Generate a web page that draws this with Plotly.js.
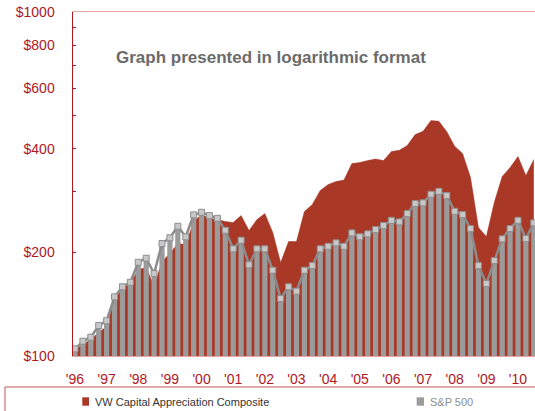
<!DOCTYPE html>
<html>
<head>
<meta charset="utf-8">
<script src="https://cdn.plot.ly/plotly-3.0.1.min.js"></script>
<style>
  html, body { margin: 0; padding: 0; background: #ffffff; }
  #chart { width: 535px; height: 411px; }
</style>
</head>
<body>
<div id="chart"></div>
<script>
// Quarterly categories, 1996 Q1 .. 2010 Q3
var quarters = [
  "1996 Q1","1996 Q2","1996 Q3","1996 Q4",
  "1997 Q1","1997 Q2","1997 Q3","1997 Q4",
  "1998 Q1","1998 Q2","1998 Q3","1998 Q4",
  "1999 Q1","1999 Q2","1999 Q3","1999 Q4",
  "2000 Q1","2000 Q2","2000 Q3","2000 Q4",
  "2001 Q1","2001 Q2","2001 Q3","2001 Q4",
  "2002 Q1","2002 Q2","2002 Q3","2002 Q4",
  "2003 Q1","2003 Q2","2003 Q3","2003 Q4",
  "2004 Q1","2004 Q2","2004 Q3","2004 Q4",
  "2005 Q1","2005 Q2","2005 Q3","2005 Q4",
  "2006 Q1","2006 Q2","2006 Q3","2006 Q4",
  "2007 Q1","2007 Q2","2007 Q3","2007 Q4",
  "2008 Q1","2008 Q2","2008 Q3","2008 Q4",
  "2009 Q1","2009 Q2","2009 Q3","2009 Q4",
  "2010 Q1","2010 Q2","2010 Q3"
];

// VW Capital Appreciation Composite (growth of $100)
var vwComposite = [
  104.4, 108.0, 111.7, 117.0,
  121.8, 145.9, 157.1, 162.4,
  178.4, 180.7, 159.2, 188.2,
  198.6, 212.3, 210.8, 245.9,
  257.7, 250.9, 249.2, 245.9,
  244.3, 256.0, 231.5, 249.2,
  259.4, 228.5, 186.9, 215.1,
  215.1, 262.9, 275.5, 302.6,
  315.0, 321.4, 324.6, 362.5,
  365.0, 369.8, 373.6, 369.8,
  392.8, 396.2, 408.9, 440.1,
  449.9, 483.4, 481.2, 449.0,
  407.0, 387.6, 330.1, 236.2,
  222.5, 279.2, 332.3, 352.9,
  379.9, 334.5, 372.3
];

// S&P 500 (growth of $100)
var sp500 = [
  104.9, 110.4, 113.4, 122.6,
  126.6, 148.6, 158.9, 163.8,
  187.3, 192.4, 173.6, 212.3,
  220.6, 238.3, 222.1, 257.2,
  261.7, 256.0, 251.4, 232.0,
  204.9, 217.1, 184.1, 204.9,
  204.9, 177.6, 146.9, 158.9,
  154.3, 177.6, 183.2, 204.9,
  208.4, 213.3, 208.4, 228.0,
  222.1, 226.5, 233.1, 239.4,
  248.0, 245.4, 259.4, 277.4,
  278.7, 295.2, 301.2, 292.6,
  263.4, 257.7, 234.6, 183.2,
  162.4, 189.4, 219.1, 234.6,
  248.0, 219.5, 243.8
];

var yearTicks = ["1996 Q1","1997 Q1","1998 Q1","1999 Q1","2000 Q1","2001 Q1","2002 Q1",
                 "2003 Q1","2004 Q1","2005 Q1","2006 Q1","2007 Q1","2008 Q1","2009 Q1","2010 Q1"];
var yearLabels = ["'96","'97","'98","'99","'00","'01","'02","'03","'04","'05","'06","'07","'08","'09","'10"];

var yTickVals = [100, 200, 300, 400, 500, 600, 700, 800, 900, 1000];
var yTickText = ["$100", "$200", "", "$400", "", "$600", "", "$800", "", "$1000"];

var titleText = "Graph presented in logarithmic format";
var seriesNames = ["VW Capital Appreciation Composite", "S&P 500"];

var RED = "#A93826";
var LABEL_RED = "#B0171F";
var BAR_GREY = "#9B9B9B";
var LINE_GREY = "#8C8C8C";

var baseline = quarters.map(function () { return 100; });

var traces = [
  { x: quarters, y: baseline, type: "scatter", mode: "lines",
    line: { width: 0, color: RED }, hoverinfo: "skip", showlegend: false,
    xaxis: "x", yaxis: "y" },
  { x: quarters, y: vwComposite, type: "scatter", mode: "lines",
    name: seriesNames[0], fill: "tonexty", fillcolor: RED,
    line: { width: 0.5, color: RED }, showlegend: false,
    xaxis: "x", yaxis: "y" },
  { x: quarters, y: sp500, type: "bar", name: seriesNames[1],
    marker: { color: BAR_GREY, line: { width: 0 } }, showlegend: false,
    xaxis: "x", yaxis: "y2" },
  { x: quarters, y: sp500, type: "scatter", mode: "lines+markers",
    name: seriesNames[1],
    line: { color: LINE_GREY, width: 2.5 },
    marker: { symbol: "square", size: 6, color: "#C8C8C8", line: { color: "#8E8E8E", width: 1 } },
    showlegend: false, xaxis: "x", yaxis: "y2" }
];

var tickFont = { family: "Liberation Sans, Arial, sans-serif", size: 14, color: LABEL_RED };

var layout = {
  width: 535, height: 411,
  margin: { l: 73, r: 0, t: 12, b: 55, pad: 0 },
  paper_bgcolor: "#ffffff", plot_bgcolor: "#ffffff",
  bargap: 0.34,
  showlegend: false,
  xaxis: {
    type: "category",
    range: [-0.25, 58.15],
    tickmode: "array", tickvals: yearTicks, ticktext: yearLabels,
    ticks: "", showgrid: false, zeroline: false,
    showline: true, linecolor: "#E6A3A3", linewidth: 1, mirror: true,
    tickfont: tickFont, ticklabelstandoff: 10
  },
  yaxis: {
    type: "log", range: [2, 3],
    tickmode: "array", tickvals: yTickVals, ticktext: yTickText,
    ticks: "inside", ticklen: 3, tickcolor: LABEL_RED, tickwidth: 1,
    showgrid: false, zeroline: false,
    showline: true, linecolor: LABEL_RED, linewidth: 1.5,
    tickfont: tickFont, ticklabelstandoff: 14
  },
  yaxis2: {
    type: "log", range: [2, 3], overlaying: "y",
    showticklabels: false, showgrid: false, zeroline: false, showline: false, ticks: ""
  },
  annotations: [
    { text: "<b>" + titleText + "</b>", xref: "paper", yref: "paper",
      x: 0.4275, y: 0.8663, xanchor: "center", yanchor: "middle", showarrow: false,
      font: { family: "Liberation Sans, Arial, sans-serif", size: 17, color: "#6B6B6B" } },
    { text: seriesNames[0], xref: "paper", yref: "paper",
      x: 0.0426, y: -0.1337, xanchor: "left", yanchor: "middle", showarrow: false,
      font: { family: "Liberation Sans, Arial, sans-serif", size: 11, color: "#333333" } },
    { text: seriesNames[1], xref: "paper", yref: "paper",
      x: 0.769, y: -0.1337, xanchor: "left", yanchor: "middle", showarrow: false,
      font: { family: "Liberation Sans, Arial, sans-serif", size: 11, color: "#8C8C8C" } }
  ],
  shapes: [
    { type: "rect", xref: "paper", yref: "paper",
      x0: -0.1472, x1: 1.03, y0: -0.0901, y1: -0.20,
      line: { color: "#C65454", width: 1 }, fillcolor: "rgba(0,0,0,0)" },
    { type: "rect", xref: "paper", yref: "paper",
      x0: 0.0201, x1: 0.0346, y0: -0.1201, y1: -0.1445,
      line: { width: 0 }, fillcolor: RED },
    { type: "rect", xref: "paper", yref: "paper",
      x0: 0.7439, x1: 0.7597, y0: -0.1201, y1: -0.1445,
      line: { width: 0 }, fillcolor: BAR_GREY }
  ]
};

Plotly.newPlot("chart", traces, layout, { staticPlot: true, displayModeBar: false });
</script>
</body>
</html>
